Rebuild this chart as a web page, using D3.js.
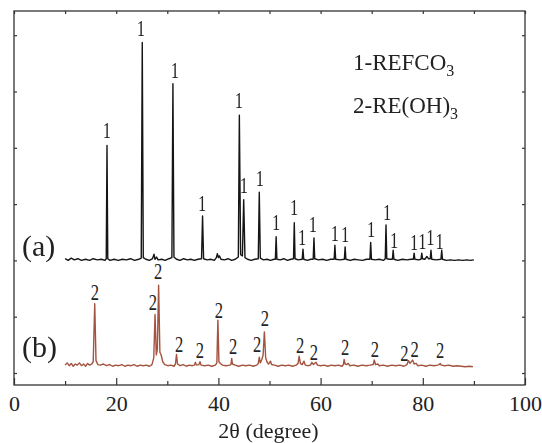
<!DOCTYPE html>
<html><head><meta charset="utf-8">
<script src="https://cdn.jsdelivr.net/npm/d3@7"></script>
<style>
body{margin:0;background:#fff;}
svg text{font-family:'Liberation Serif','DejaVu Serif','Noto Serif','Times New Roman',Times,serif !important;fill:#222;}
.plabels{opacity:0.99;}
</style></head>
<body><svg id="c" width="542" height="443"></svg>
<script>
// ---- data ----
const xMajorTicks = [0,20,40,60,80,100];
const xMinorTicks = [10,30,50,70,90];
const yTicks = [0,1,2,3,4,5,6];
const seriesNames = ["(a)","(b)"];
const seriesOffsets = [2.0, 0.12];
// (a) REFCO3 pattern: [2theta, intensity above baseline]
const patternA = [[10,0.03],[10.6,0.0],[11.2,0.04],[11.8,0.01],[12.5,0.03],[13.2,0.0],[14,0.02],[14.8,0.0],[15.5,0.03],[16.3,0.01],[17.1,0.02],[17.8,0.0],[18.05,0.03],[18.2,2.04],[18.35,0.03],[18.8,0.0],[19.6,0.02],[20.4,0.0],[21.2,0.02],[22,0.01],[22.8,0.03],[23.6,0.0],[24.4,0.02],[24.9,0.04],[25.1,3.87],[25.3,0.05],[25.8,0.02],[26.5,0.0],[27.1,0.03],[27.4,0.11],[27.6,0.02],[27.9,0.06],[28.2,0.01],[28.9,0.02],[29.6,0.0],[30.3,0.03],[30.9,0.05],[31.1,3.14],[31.3,0.06],[31.8,0.02],[32.5,0.0],[33.2,0.03],[33.9,0.01],[34.6,0.02],[35.3,0.0],[36,0.02],[36.7,0.03],[36.9,0.79],[37.1,0.03],[37.8,0.01],[38.5,0.02],[39.2,0.0],[39.6,0.05],[39.8,0.12],[40.0,0.05],[40.2,0.08],[40.5,0.02],[41.2,0.01],[41.9,0.03],[42.6,0.0],[43.3,0.02],[43.9,0.06],[44.1,2.58],[44.35,0.1],[44.7,0.08],[44.95,1.08],[45.2,0.05],[45.7,0.02],[46.4,0.0],[47.1,0.02],[47.8,0.03],[48.0,1.21],[48.2,0.04],[48.8,0.01],[49.5,0.02],[50.2,0.0],[50.9,0.02],[51.15,0.02],[51.3,0.42],[51.45,0.02],[52.1,0.01],[52.8,0.03],[53.5,0.0],[54.2,0.02],[54.7,0.03],[54.85,0.67],[55.0,0.03],[55.6,0.01],[56.4,0.02],[56.55,0.20],[56.7,0.02],[57.4,0.0],[58.1,0.02],[58.55,0.02],[58.7,0.40],[58.85,0.03],[59.6,0.01],[60.4,0.02],[61.2,0.0],[62.0,0.02],[62.65,0.02],[62.8,0.27],[62.95,0.02],[63.8,0.01],[64.65,0.02],[64.8,0.24],[64.95,0.02],[65.8,0.0],[66.6,0.02],[67.4,0.01],[68.2,0.0],[69.0,0.02],[69.65,0.02],[69.8,0.32],[69.95,0.02],[70.7,0.01],[71.5,0.02],[72.3,0.0],[72.65,0.03],[72.8,0.63],[72.95,0.03],[73.5,0.02],[74.05,0.02],[74.2,0.18],[74.35,0.02],[75.1,0.0],[76,0.02],[76.9,0.01],[77.7,0.02],[78.15,0.02],[78.3,0.13],[78.45,0.02],[79.2,0.01],[79.65,0.02],[79.8,0.13],[79.95,0.03],[80.4,0.02],[80.8,0.07],[81.1,0.03],[81.45,0.03],[81.6,0.18],[81.75,0.02],[82.6,0.01],[83.55,0.02],[83.7,0.18],[83.85,0.02],[84.6,0.0],[85.4,0.01],[86.2,0.0],[87,0.01],[87.8,0.0],[88.6,0.01],[89.3,0.0],[90,0.01]];
// (b) RE(OH)3 pattern
const patternB = [[10,0.02],[10.4,0.06],[10.8,0.01],[11.2,0.05],[11.6,0.0],[12.0,0.04],[12.4,0.02],[12.8,0.06],[13.2,0.01],[13.6,0.04],[14.0,0.0],[14.4,0.05],[14.8,0.02],[15.2,0.04],[15.5,0.08],[15.8,1.11],[16.05,0.1],[16.4,0.03],[16.9,0.02],[17.5,0.04],[18.1,0.01],[18.7,0.03],[19.3,0.0],[19.9,0.02],[20.5,0.01],[21.1,0.03],[21.7,0.0],[22.3,0.02],[22.9,0.01],[23.5,0.03],[24.1,0.0],[24.7,0.02],[25.3,0.01],[25.9,0.02],[26.5,0.0],[27.0,0.03],[27.35,0.15],[27.6,0.92],[27.85,0.2],[28.05,0.3],[28.3,1.44],[28.55,0.25],[28.8,0.2],[29.1,0.08],[29.5,0.03],[30.1,0.01],[30.7,0.02],[31.3,0.0],[31.6,0.04],[31.8,0.21],[32.0,0.04],[32.5,0.01],[33.1,0.03],[33.7,0.0],[34.3,0.02],[34.9,0.01],[35.3,0.02],[35.5,0.07],[35.7,0.02],[36.2,0.03],[36.4,0.08],[36.6,0.02],[37.3,0.01],[38,0.02],[38.7,0.0],[39.4,0.02],[39.7,0.06],[39.9,0.82],[40.1,0.08],[40.4,0.05],[40.8,0.02],[41.5,0.01],[42.2,0.02],[42.45,0.03],[42.6,0.14],[42.75,0.04],[43.3,0.02],[44,0.0],[44.7,0.02],[45.4,0.01],[46.1,0.02],[46.8,0.0],[47.5,0.02],[47.8,0.05],[48.0,0.16],[48.2,0.06],[48.5,0.12],[48.75,0.2],[49.0,0.61],[49.25,0.15],[49.5,0.08],[49.8,0.04],[50.0,0.06],[50.2,0.09],[50.4,0.03],[51,0.02],[51.7,0.0],[52.4,0.02],[53.1,0.01],[53.8,0.02],[54.5,0.0],[55.2,0.02],[55.6,0.05],[55.8,0.18],[56.05,0.05],[56.4,0.03],[56.75,0.09],[57.0,0.02],[57.6,0.01],[58.0,0.02],[58.3,0.07],[58.6,0.03],[59.1,0.07],[59.4,0.02],[60,0.01],[60.7,0.02],[61.4,0.0],[62.1,0.02],[62.8,0.01],[63.5,0.02],[64.2,0.0],[64.45,0.03],[64.6,0.12],[64.8,0.04],[65.1,0.03],[65.4,0.05],[65.7,0.01],[66.5,0.02],[67.3,0.0],[68.1,0.02],[68.9,0.01],[69.7,0.02],[70.3,0.03],[70.5,0.11],[70.75,0.03],[71.2,0.04],[71.5,0.01],[72.3,0.02],[73.1,0.0],[73.9,0.02],[74.7,0.01],[75.5,0.02],[76.3,0.0],[76.9,0.03],[77.2,0.10],[77.5,0.05],[78.0,0.11],[78.3,0.04],[78.7,0.05],[79.0,0.01],[79.8,0.02],[80.6,0.0],[81.4,0.02],[82.2,0.01],[82.9,0.02],[83.2,0.03],[83.4,0.05],[83.6,0.02],[84.3,0.01],[85.1,0.02],[85.9,0.0],[86.7,0.01],[87.5,0.0],[88.3,-0.01],[89.1,0.0],[89.8,-0.01]];
// peak marker labels: [2theta, intensity] of label centre
const labelsA = [[18.2,4.32],[24.85,6.13],[31.5,5.38],[36.8,3.02],[44.0,4.85],[45.0,3.34],[48.1,3.46],[51.3,2.68],[54.8,2.95],[56.4,2.42],[58.5,2.66],[62.8,2.49],[64.8,2.47],[69.9,2.56],[73.0,2.86],[74.4,2.36],[78.3,2.33],[79.9,2.35],[81.5,2.42],[83.3,2.35]];
const labelsB = [[15.85,1.44],[27.2,1.26],[28.2,1.81],[32.3,0.52],[36.4,0.41],[40.1,1.12],[42.9,0.48],[47.6,0.52],[49.1,0.98],[56.0,0.50],[58.7,0.37],[64.8,0.46],[70.6,0.44],[76.4,0.36],[78.4,0.43],[83.4,0.41]];
const labelTextA = "1", labelTextB = "2";
const legendItems = [["1-REFCO","3"],["2-RE(OH)","3"]];
const xTitle = "2θ (degree)";

// ---- drawing ----
const FONT = "'Liberation Serif','DejaVu Serif','Noto Serif','Times New Roman',Times,serif";
const svg = d3.select("#c");
const L=14, R=525, T=11, B=385;
const x = d3.scaleLinear().domain([0,100]).range([L,R]);
const y = d3.scaleLinear().domain([-0.213,6.43]).range([B,T]);

// ticks
const gx = svg.append("g").attr("transform",`translate(0,${B})`)
  .call(d3.axisBottom(x).tickValues(xMajorTicks).tickSize(-7).tickPadding(10).tickFormat(d3.format("d")));
const gxm = svg.append("g").attr("transform",`translate(0,${B})`)
  .call(d3.axisBottom(x).tickValues(xMinorTicks).tickSize(-4).tickFormat(""));
const gxt = svg.append("g").attr("transform",`translate(0,${T})`)
  .call(d3.axisTop(x).tickValues(xMajorTicks.concat(xMinorTicks)).tickSize(-3).tickFormat(""));
const gyl = svg.append("g").attr("transform",`translate(${L},0)`)
  .call(d3.axisLeft(y).tickValues(yTicks).tickSize(-3).tickFormat(""));
const gyr = svg.append("g").attr("transform",`translate(${R},0)`)
  .call(d3.axisRight(y).tickValues(yTicks).tickSize(-3).tickFormat(""));
[gx,gxm,gxt,gyl,gyr].forEach(g=>{
  g.attr("font-family",FONT);
  g.select(".domain").remove();
  g.selectAll(".tick line").attr("stroke","#333").attr("stroke-width",1.2);
});
gx.selectAll(".tick text").attr("font-size",22).attr("font-family",FONT).attr("fill","#222");

svg.append("rect").attr("x",L).attr("y",T).attr("width",R-L).attr("height",B-T)
  .attr("fill","none").attr("stroke","#333").attr("stroke-width",1.3);

// patterns
const colors = ["#151515","#a4533f"];
[patternA, patternB].forEach((p,i)=>{
  const line = d3.line().x(d=>x(d[0])).y(d=>y(d[1]+seriesOffsets[i]));
  svg.append("path").datum(p).attr("d",line).attr("fill","none")
    .attr("stroke",colors[i]).attr("stroke-width",1.4).attr("stroke-linejoin","round");
});

// peak labels (narrow digits, like the reference's Times glyphs)
function drawLabels(arr, t){
  svg.append("g").attr("class","plabels").selectAll("text").data(arr).join("text")
    .attr("font-family",FONT)
    .attr("transform",d=>`translate(${x(d[0])},${y(d[1])}) scale(0.72,1)`)
    .attr("dy","0.36em").attr("text-anchor","middle").attr("font-size",23).text(t);
}
drawLabels(labelsA,labelTextA);
drawLabels(labelsB,labelTextB);

// series names
svg.append("text").attr("font-family",FONT).attr("x",22).attr("y",256).attr("font-size",30).text(seriesNames[0]);
svg.append("text").attr("font-family",FONT).attr("x",22).attr("y",357).attr("font-size",30).text(seriesNames[1]);

// legend
legendItems.forEach((it,i)=>{
  const t = svg.append("text").attr("font-family",FONT).attr("x",353).attr("y",70+i*43).attr("font-size",23);
  t.append("tspan").text(it[0]);
  t.append("tspan").attr("dy",6).attr("font-size",16).text(it[1]);
});

// axis title
svg.append("text").attr("font-family",FONT).attr("x",(L+R)/2-1).attr("y",438).attr("text-anchor","middle")
  .attr("font-size",22).text(xTitle);
</script></body></html>
